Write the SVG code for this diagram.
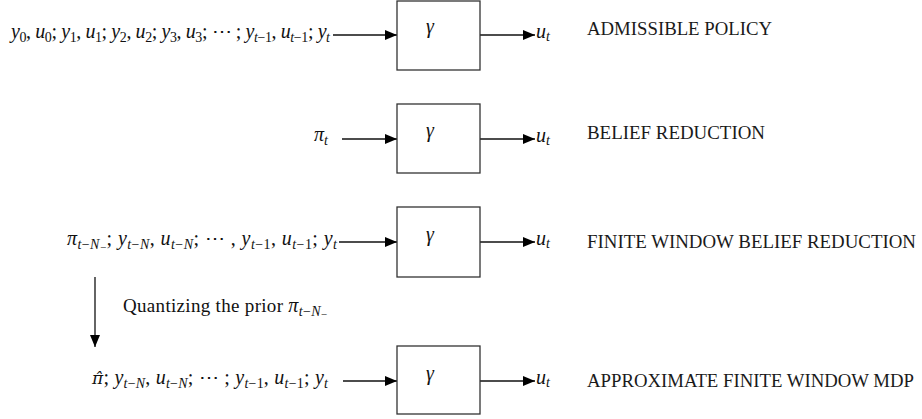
<svg xmlns="http://www.w3.org/2000/svg" width="922" height="419" viewBox="0 0 922 419">
<style>
.m{font-family:"Liberation Serif",serif;font-size:20px;font-style:italic;fill:#111}
.rm{font-family:"Liberation Serif",serif;font-size:19px;fill:#111}
.cap{font-family:"Liberation Serif",serif;font-size:19px;font-weight:normal;fill:#1a1a1a}
.s{font-size:14px}
.s2{font-size:11px}
.r{font-style:normal}
.box{fill:#fff;stroke:#333;stroke-width:1.3}
.con{fill:none;stroke:#111;stroke-width:1.3}
</style>
<defs>
<marker id="ah" markerUnits="userSpaceOnUse" markerWidth="12" markerHeight="10" refX="12" refY="5" orient="auto">
<path d="M0,0 L12,5 L0,10 z" fill="#000"/>
</marker>
</defs>
<rect width="922" height="419" fill="#fff"/>

<g id="connectors">
<path class="con" d="M333,35 H397" marker-end="url(#ah)"/>
<path class="con" d="M480,35 H535" marker-end="url(#ah)"/>
<path class="con" d="M342,139 H397" marker-end="url(#ah)"/>
<path class="con" d="M480,139 H535" marker-end="url(#ah)"/>
<path class="con" d="M339,242 H397" marker-end="url(#ah)"/>
<path class="con" d="M480,242 H535" marker-end="url(#ah)"/>
<path class="con" d="M343,381 H397" marker-end="url(#ah)"/>
<path class="con" d="M480,381 H535" marker-end="url(#ah)"/>
<path class="con" d="M95,277 V347" marker-end="url(#ah)"/>
</g>

<g id="node-admissible">
<rect class="box" x="397" y="1" width="83" height="69"/>
<text class="m" x="430" y="33" text-anchor="middle">γ</text>
<text class="m" x="11" y="38" textLength="319" lengthAdjust="spacing"><tspan>y</tspan><tspan class="s r" dy="4">0</tspan><tspan class="r" dy="-4">, </tspan><tspan>u</tspan><tspan class="s r" dy="4">0</tspan><tspan class="r" dy="-4">; </tspan><tspan>y</tspan><tspan class="s r" dy="4">1</tspan><tspan class="r" dy="-4">, </tspan><tspan>u</tspan><tspan class="s r" dy="4">1</tspan><tspan class="r" dy="-4">; </tspan><tspan>y</tspan><tspan class="s r" dy="4">2</tspan><tspan class="r" dy="-4">, </tspan><tspan>u</tspan><tspan class="s r" dy="4">2</tspan><tspan class="r" dy="-4">; </tspan><tspan>y</tspan><tspan class="s r" dy="4">3</tspan><tspan class="r" dy="-4">, </tspan><tspan>u</tspan><tspan class="s r" dy="4">3</tspan><tspan class="r" dy="-4">; ⋯ ; </tspan><tspan>y</tspan><tspan class="s" dy="4">t<tspan class="r">−1</tspan></tspan><tspan class="r" dy="-4">, </tspan><tspan>u</tspan><tspan class="s" dy="4">t<tspan class="r">−1</tspan></tspan><tspan class="r" dy="-4">; </tspan><tspan>y</tspan><tspan class="s" dy="4">t</tspan></text>
<text class="m" x="536" y="38">u<tspan class="s" dy="3">t</tspan></text>
<text class="cap" x="587" y="35" textLength="185" lengthAdjust="spacingAndGlyphs">ADMISSIBLE POLICY</text>
</g>

<g id="node-belief">
<rect class="box" x="397" y="104" width="83" height="69"/>
<text class="m" x="430" y="137" text-anchor="middle">γ</text>
<text class="m" x="314" y="141">π<tspan class="s" dy="4">t</tspan></text>
<text class="m" x="536" y="142">u<tspan class="s" dy="3">t</tspan></text>
<text class="cap" x="587" y="139" textLength="178" lengthAdjust="spacingAndGlyphs">BELIEF REDUCTION</text>
</g>

<g id="node-finite-belief">
<rect class="box" x="397" y="207" width="83" height="70"/>
<text class="m" x="430" y="241" text-anchor="middle">γ</text>
<text class="m" x="67" y="245" textLength="270" lengthAdjust="spacing"><tspan>π</tspan><tspan class="s" dy="4">t<tspan class="r">−</tspan>N</tspan><tspan class="s2 r" dy="2">−</tspan><tspan class="r" dy="-6">; </tspan><tspan>y</tspan><tspan class="s" dy="4">t<tspan class="r">−</tspan>N</tspan><tspan class="r" dy="-4">, </tspan><tspan>u</tspan><tspan class="s" dy="4">t<tspan class="r">−</tspan>N</tspan><tspan class="r" dy="-4">; ⋯ , </tspan><tspan>y</tspan><tspan class="s" dy="4">t<tspan class="r">−1</tspan></tspan><tspan class="r" dy="-4">, </tspan><tspan>u</tspan><tspan class="s" dy="4">t<tspan class="r">−1</tspan></tspan><tspan class="r" dy="-4">; </tspan><tspan>y</tspan><tspan class="s" dy="4">t</tspan></text>
<text class="m" x="536" y="245">u<tspan class="s" dy="3">t</tspan></text>
<text class="cap" x="587" y="248" textLength="329" lengthAdjust="spacingAndGlyphs">FINITE WINDOW BELIEF REDUCTION</text>
</g>

<g id="node-approx">
<rect class="box" x="397" y="346" width="83" height="68"/>
<text class="m" x="430" y="380" text-anchor="middle">γ</text>
<text class="m" x="92" y="384" textLength="236" lengthAdjust="spacing"><tspan font-family="'DejaVu Serif',serif" font-size="17">π̂</tspan><tspan class="r">; </tspan><tspan>y</tspan><tspan class="s" dy="4">t<tspan class="r">−</tspan>N</tspan><tspan class="r" dy="-4">, </tspan><tspan>u</tspan><tspan class="s" dy="4">t<tspan class="r">−</tspan>N</tspan><tspan class="r" dy="-4">; ⋯ ; </tspan><tspan>y</tspan><tspan class="s" dy="4">t<tspan class="r">−1</tspan></tspan><tspan class="r" dy="-4">, </tspan><tspan>u</tspan><tspan class="s" dy="4">t<tspan class="r">−1</tspan></tspan><tspan class="r" dy="-4">; </tspan><tspan>y</tspan><tspan class="s" dy="4">t</tspan></text>
<text class="m" x="536" y="384">u<tspan class="s" dy="3">t</tspan></text>
<text class="cap" x="587" y="387" textLength="327" lengthAdjust="spacingAndGlyphs">APPROXIMATE FINITE WINDOW MDP</text>
</g>

<g id="label-quantizing">
<text class="rm" x="123" y="312" textLength="204" lengthAdjust="spacing">Quantizing the prior <tspan class="m">π</tspan><tspan class="m s" dy="4">t<tspan class="r">−</tspan>N</tspan><tspan class="s2" dy="2">−</tspan></text>
</g>
</svg>
